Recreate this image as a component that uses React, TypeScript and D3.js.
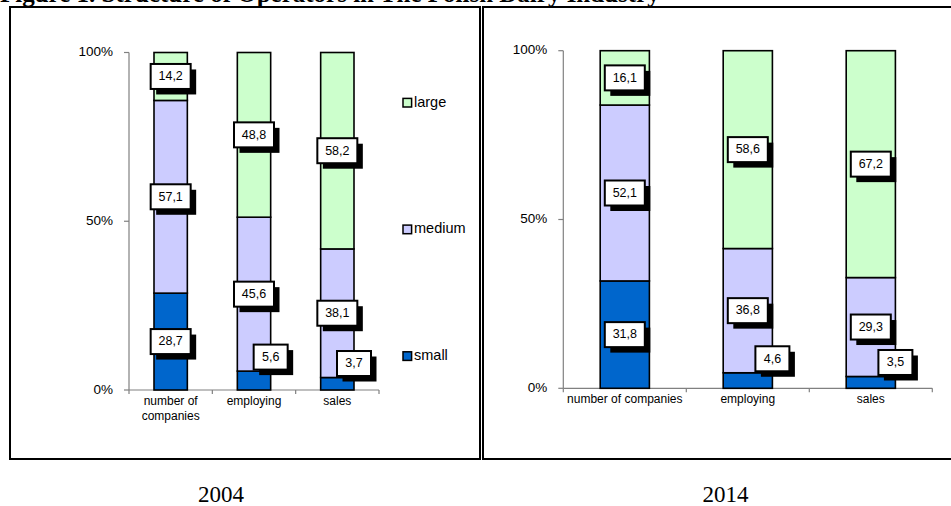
import React from "react";
import * as d3 from "d3";

// ---------- data ----------
const categories = ["number of companies", "employing", "sales"];
const seriesKeys = ["small", "medium", "large"];
const years = ["2004", "2014"];

const small2004 = [28.7, 5.6, 3.7];
const medium2004 = [57.1, 45.6, 38.1];
const large2004 = [14.2, 48.8, 58.2];

const small2014 = [31.8, 4.6, 3.5];
const medium2014 = [52.1, 36.8, 29.3];
const large2014 = [16.1, 58.6, 67.2];

const yTicks = [0, 50, 100];

const titleText = "Figure 1. Structure of Operators in The Polish Dairy Industry";

// ---------- style ----------
const colors: Record<string, string> = {
  small: "#0066CC",
  medium: "#CCCCFF",
  large: "#CCFFCC",
};
const SANS = "'Liberation Sans', Arial, sans-serif";
const SERIF = "'Liberation Serif', 'Times New Roman', serif";

type PanelLayout = {
  x0: number;
  x1: number;
  yBottom: number;
  yTop: number;
  frame: [number, number, number, number];
  yearX: number;
  legend: boolean;
};

const layouts: PanelLayout[] = [
  { x0: 129, x1: 379, yBottom: 390, yTop: 52.5, frame: [10, 7, 480, 459], yearX: 221, legend: true },
  { x0: 563.3, x1: 932.3, yBottom: 388.3, yTop: 50.7, frame: [483, 7, 953, 459], yearX: 725.5, legend: false },
];

const fmt = (v: number) => d3.format(".1f")(v).replace(".", ",");

function wrapLabel(text: string, maxW: number): string[] {
  const words = text.split(" ");
  const lines: string[] = [];
  let cur = "";
  const cw = 6.2;
  for (const w of words) {
    const test = cur ? cur + " " + w : w;
    if (test.length * cw > maxW && cur) {
      lines.push(cur);
      cur = w;
    } else cur = test;
  }
  if (cur) lines.push(cur);
  return lines;
}

function Panel({ layout, rows, year }: { layout: PanelLayout; rows: any[]; year: string }) {
  const x = d3
    .scaleBand<string>()
    .domain(categories)
    .range([layout.x0, layout.x1])
    .paddingInner(0.6)
    .paddingOuter(0.3);
  const y = d3.scaleLinear().domain([0, 100]).range([layout.yBottom, layout.yTop]);
  const stack = d3.stack<any>().keys(seriesKeys);
  const stacked = stack(rows);
  const step = x.step();
  const bw = x.bandwidth();
  const [fx0, fy0, fx1, fy1] = layout.frame;

  const labels: any[] = [];
  stacked.forEach((s) => {
    s.forEach((d: any, i: number) => {
      const v = d[1] - d[0];
      const cx = x(categories[i])! + bw / 2;
      let lx = cx;
      let ly = y((d[0] + d[1]) / 2);
      if (v < 10) {
        lx = cx + bw * 0.5;
        ly = y(d[1]) - 14;
      }
      labels.push({ key: s.key + i, text: fmt(v), lx, ly });
    });
  });

  return (
    <g>
      <rect x={fx0} y={fy0} width={fx1 - fx0} height={fy1 - fy0} fill="none" stroke="#000" strokeWidth={2} />
      {/* y axis */}
      <line x1={layout.x0} x2={layout.x0} y1={y(0)} y2={y(100)} stroke="#808080" strokeWidth={1.2} />
      {yTicks.map((t) => (
        <g key={t}>
          <line x1={layout.x0 - 5} x2={layout.x0} y1={y(t)} y2={y(t)} stroke="#808080" strokeWidth={1.2} />
          <text x={layout.x0 - 16} y={y(t)} textAnchor="end" dominantBaseline="middle" fontSize={13.5} fontFamily={SANS} fill="#000">
            {t + "%"}
          </text>
        </g>
      ))}
      {/* x axis */}
      <line x1={layout.x0} x2={layout.x1} y1={y(0)} y2={y(0)} stroke="#808080" strokeWidth={1.2} />
      {d3.range(categories.length + 1).map((i) => (
        <line key={i} x1={layout.x0 + i * step} x2={layout.x0 + i * step} y1={y(0)} y2={y(0) + 4} stroke="#808080" strokeWidth={1.2} />
      ))}
      {categories.map((c) => {
        const lines = wrapLabel(c, step);
        return (
          <text key={c} x={x(c)! + bw / 2} y={y(0) + 15} textAnchor="middle" fontSize={12} fontFamily={SANS} fill="#000">
            {lines.map((l, j) => (
              <tspan key={j} x={x(c)! + bw / 2} dy={j === 0 ? 0 : 14.5}>
                {l}
              </tspan>
            ))}
          </text>
        );
      })}
      {/* bars */}
      {stacked.map((s) => (
        <g key={s.key}>
          {s.map((d: any, i: number) => (
            <rect
              key={i}
              x={x(categories[i])}
              y={y(d[1])}
              width={bw}
              height={y(d[0]) - y(d[1])}
              fill={colors[s.key]}
              stroke="#000"
              strokeWidth={1.6}
            />
          ))}
        </g>
      ))}
      {/* labels */}
      {labels.map((l) => {
        const w = 16 + 6 * l.text.length;
        const h = 25;
        return (
          <g key={l.key}>
            <rect x={l.lx - w / 2 + 5.5} y={l.ly - h / 2 + 5.5} width={w} height={h} fill="#000" />
            <rect x={l.lx - w / 2} y={l.ly - h / 2} width={w} height={h} fill="#fff" stroke="#000" strokeWidth={2} />
            <text x={l.lx} y={l.ly + 0.5} textAnchor="middle" dominantBaseline="middle" fontSize={12.5} fontFamily={SANS} fill="#000">
              {l.text}
            </text>
          </g>
        );
      })}
      {/* legend */}
      {layout.legend &&
        [...seriesKeys].reverse().map((k, i) => {
          const ly = 102.7 + i * 126.7;
          return (
            <g key={k}>
              <rect x={403} y={ly - 4.3} width={8.6} height={8.6} fill={colors[k]} stroke="#000" strokeWidth={1.5} />
              <text x={414} y={ly} dominantBaseline="middle" fontSize={14.5} fontFamily={SANS} fill="#000">
                {k}
              </text>
            </g>
          );
        })}
      {/* year */}
      <text x={layout.yearX} y={502} textAnchor="middle" fontSize={23} fontFamily={SERIF} fill="#000">
        {year}
      </text>
    </g>
  );
}

export default function App() {
  const rows2004 = categories.map((c, i) => ({ category: c, small: small2004[i], medium: medium2004[i], large: large2004[i] }));
  const rows2014 = categories.map((c, i) => ({ category: c, small: small2014[i], medium: medium2014[i], large: large2014[i] }));
  const allRows = [rows2004, rows2014];
  return (
    <div style={{ position: "absolute", left: 0, top: 0 }}>
      <svg width={951} height={506} style={{ display: "block", background: "#fff" }}>
        <rect x={0} y={0} width={951} height={506} fill="#fff" />
        <text x={0} y={2} fontSize={25} fontWeight="bold" fontFamily={SERIF} fill="#000">
          {titleText}
        </text>
        {layouts.map((l, i) => (
          <Panel key={i} layout={l} rows={allRows[i]} year={years[i]} />
        ))}
      </svg>
    </div>
  );
}
